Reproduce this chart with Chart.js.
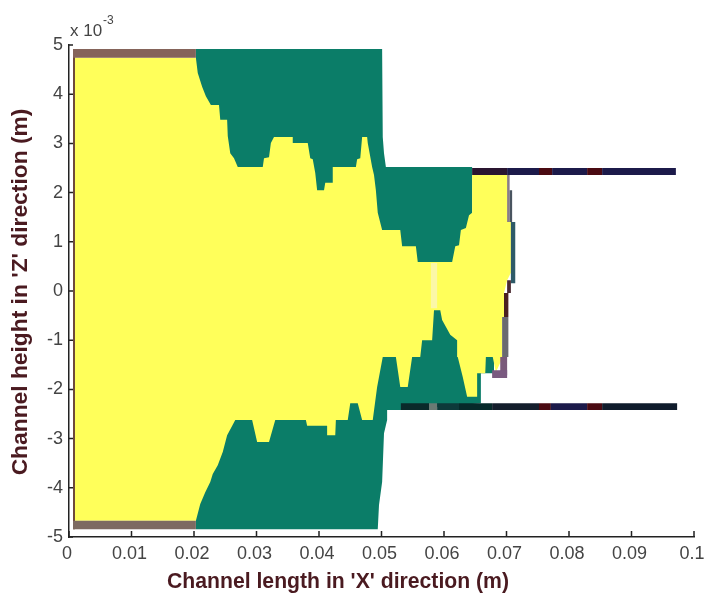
<!DOCTYPE html>
<html>
<head>
<meta charset="utf-8">
<title>Channel fill front</title>
<script src="https://cdn.jsdelivr.net/npm/chart.js@4"></script>
<style>
  html, body { margin: 0; padding: 0; background: #fff; }
  canvas { display: block; }
</style>
</head>
<body>
<canvas id="fillChart" width="708" height="597"></canvas>
<script>
// Axis ticks. Z values are in units of 10^-3 m
const xTickValues = [0, 0.01, 0.02, 0.03, 0.04, 0.05, 0.06, 0.07, 0.08, 0.09, 0.1];
const xTickLabels = ['0', '0.01', '0.02', '0.03', '0.04', '0.05', '0.06', '0.07', '0.08', '0.09', '0.1'];
const zTickValues = [-5, -4, -3, -2, -1, 0, 1, 2, 3, 4, 5];
const zTickLabels = ['-5', '-4', '-3', '-2', '-1', '0', '1', '2', '3', '4', '5'];

// Outline of the green region
const greenX = [0.0203, 0.0501, 0.0502, 0.0504, 0.0507, 0.0645, 0.0645, 0.0658, 0.0680, 0.0680, 0.0659, 0.0659, 0.0531, 0.0509, 0.0509, 0.0504, 0.0501, 0.0496, 0.0494, 0.0203];
const greenZ = [4.92, 4.92, 3.13, 2.80, 2.52, 2.52, 0.59, -0.18, -1.34, -1.67, -1.67, -2.28, -2.42, -2.42, -2.62, -2.89, -3.88, -4.35, -4.84, -4.84];

// Outline of the yellow region: upper edge, right edge, lower edge
const yellowX = [
  0.00096, 0.0203, 0.0206, 0.0213, 0.0219, 0.0227, 0.0240, 0.0242, 0.0253, 0.0254, 0.0258, 0.0264, 0.0270,
  0.0310, 0.0312, 0.0320, 0.0323, 0.0328, 0.0358, 0.0358, 0.0382, 0.0386, 0.0390, 0.0394, 0.0397, 0.0408,
  0.0410, 0.0421, 0.0422, 0.0459, 0.0461, 0.0466, 0.0469, 0.0477, 0.0478, 0.0485, 0.0488, 0.0491, 0.0494,
  0.0501, 0.0530, 0.0533, 0.0555, 0.0558, 0.0613, 0.0618, 0.0624, 0.0627, 0.0635, 0.0640, 0.0645, 0.0645,
  0.0702, 0.0702, 0.0707, 0.0707, 0.0701, 0.0696, 0.0696, 0.0693, 0.0693, 0.0690, 0.0683,
  0.0678, 0.0667, 0.0666, 0.0653, 0.0653, 0.0637, 0.0630, 0.0622, 0.0621, 0.0610, 0.0597, 0.0594, 0.0584,
  0.0581, 0.0565, 0.0562, 0.0549, 0.0542, 0.0530, 0.0523, 0.0502, 0.0493, 0.0486, 0.0469, 0.0462, 0.0450,
  0.0446, 0.0427, 0.0426, 0.0413, 0.0413, 0.0381, 0.0379, 0.0330, 0.0320, 0.0301, 0.0293, 0.0266, 0.0262,
  0.0253, 0.0246, 0.0238, 0.0230, 0.0226, 0.0218, 0.0210, 0.0203, 0.00096
];
const yellowZ = [
  4.74, 4.74, 4.43, 4.15, 3.96, 3.78, 3.78, 3.48, 3.48, 3.15, 2.80, 2.70, 2.52,
  2.52, 2.70, 2.72, 3.01, 3.13, 3.13, 3.01, 3.01, 2.70, 2.68, 2.40, 2.05, 2.05,
  2.20, 2.20, 2.52, 2.52, 2.68, 2.70, 3.13, 3.13, 3.01, 2.52, 2.36, 2.05, 1.59,
  1.24, 1.24, 0.91, 0.91, 0.59, 0.59, 0.91, 0.93, 1.24, 1.28, 1.54, 1.59, 2.36,
  2.36, 1.44, 1.40, 0.37, 0.22, -0.04, -0.53, -0.53, -1.34, -1.46, -1.65,
  -1.34, -1.34, -1.67, -1.67, -2.15, -2.15, -1.75, -1.34, -1.00, -0.89, -0.59, -0.39, -0.39,
  -1.00, -1.00, -1.34, -1.34, -1.95, -1.95, -1.34, -1.34, -1.95, -2.62, -2.62, -2.28, -2.28,
  -2.62, -2.62, -2.93, -2.93, -2.74, -2.74, -2.62, -2.62, -3.07, -3.07, -2.62, -2.62, -2.72,
  -2.93, -3.27, -3.54, -3.72, -3.88, -4.09, -4.33, -4.67, -4.67
];

// Brown wall strips and the pale slit, as [x0, x1] / [z0, z1] cells
const cellX0 = [0.00064, 0.00064, 0.00064, 0.0579];
const cellX1 = [0.00096, 0.0203, 0.0203, 0.0589];
const cellZ0 = [4.92, 4.92, -4.67, 0.57];
const cellZ1 = [-4.84, 4.74, -4.84, -0.35];
const cellColors = ['#6f4a3a', '#85645a', '#7d6a62', '#fbf7a8'];

// Thin front cells on the right edge of the yellow region
const edgeX0 = [0.0701, 0.0705, 0.0707, 0.0701, 0.0696, 0.0693, 0.0690, 0.0677];
const edgeX1 = [0.0705, 0.0709, 0.0714, 0.0707, 0.0703, 0.0703, 0.0701, 0.0701];
const edgeZ0 = [2.36, 2.05, 1.40, 0.22, -0.04, -0.53, -1.34, -1.61];
const edgeZ1 = [1.40, 1.40, 0.16, -0.04, -0.53, -1.34, -1.71, -1.77];
const edgeColors = ['#8a7c88', '#4a5560', '#2e5a68', '#4a2a30', '#4a2020', '#6a6a70', '#7a5a7a', '#7a5a80'];

// Dark channel walls, split in coloured cells
const topBarEdges = [0.0645, 0.0701, 0.0752, 0.0773, 0.0829, 0.0853, 0.0971];
const topBarColors = ['#2a1530', '#1c1a4a', '#4a0a12', '#1c1a4a', '#4a0a12', '#1c1a4a'];
const topBarZ = [2.50, 2.36];
const bottomBarEdges = [0.0531, 0.0576, 0.0589, 0.0624, 0.0677, 0.0752, 0.0771, 0.0829, 0.0853, 0.0973];
const bottomBarColors = ['#0a2a2a', '#6a7a74', '#0d3a3a', '#062a2a', '#141e2c', '#4a0a12', '#1c1a4a', '#4a0a12', '#101c2c'];
const bottomBarZ = [-2.28, -2.42];

const TITLE_COLOR = '#4a1a20';
const TICK_COLOR = '#444444';
const AXIS_COLOR = '#222222';
const FONT_FAMILY = '"Liberation Sans", Arial, sans-serif';

function polygon(xs, zs, color) {
    return {
        data: xs.map((x, i) => ({ x: x, y: zs[i] })),
        showLine: true,
        backgroundColor: color,
        borderWidth: 0,
        pointRadius: 0,
        tension: 0,
        fill: 'shape'
    };
}

function cell(x0, x1, z0, z1, color) {
    return polygon([x0, x1, x1, x0], [z0, z0, z1, z1], color);
}

// Bottom layer first, reversed below because Chart.js paints the first dataset last
const layers = [
    polygon(greenX, greenZ, '#0b7d68'),
    polygon(yellowX, yellowZ, '#ffff5a')
];
cellX0.forEach((x, i) => layers.push(cell(x, cellX1[i], cellZ0[i], cellZ1[i], cellColors[i])));
edgeX0.forEach((x, i) => layers.push(cell(x, edgeX1[i], edgeZ0[i], edgeZ1[i], edgeColors[i])));
topBarColors.forEach((c, i) => layers.push(cell(topBarEdges[i], topBarEdges[i + 1], topBarZ[0], topBarZ[1], c)));
bottomBarColors.forEach((c, i) => layers.push(cell(bottomBarEdges[i], bottomBarEdges[i + 1], bottomBarZ[0], bottomBarZ[1], c)));

// Inward tick marks, axis titles and the exponent note above the Z axis
const axisExtras = {
    id: 'axisExtras',
    afterDraw(chart) {
        const { ctx, scales, chartArea } = chart;
        ctx.save();
        ctx.strokeStyle = AXIS_COLOR;
        ctx.lineWidth = 1.5;
        ctx.beginPath();
        xTickValues.forEach(v => {
            const px = scales.x.getPixelForValue(v);
            ctx.moveTo(px, chartArea.bottom);
            ctx.lineTo(px, chartArea.bottom - 6);
        });
        zTickValues.forEach(v => {
            const py = scales.y.getPixelForValue(v);
            ctx.moveTo(chartArea.left, py);
            ctx.lineTo(chartArea.left + 4, py);
        });
        ctx.stroke();

        ctx.fillStyle = TICK_COLOR;
        ctx.textAlign = 'left';
        ctx.textBaseline = 'alphabetic';
        ctx.font = '17px ' + FONT_FAMILY;
        ctx.fillText('x 10', 70, 36);
        ctx.font = '12px ' + FONT_FAMILY;
        ctx.fillText('-3', 103, 24);

        ctx.fillStyle = TITLE_COLOR;
        ctx.textAlign = 'center';
        ctx.textBaseline = 'middle';
        ctx.font = 'bold 21.2px ' + FONT_FAMILY;
        ctx.fillText("Channel length in 'X' direction (m)", 338, 582);
        ctx.translate(21, 292);
        ctx.rotate(-Math.PI / 2);
        ctx.font = 'bold 22.8px ' + FONT_FAMILY;
        ctx.fillText("Channel height in 'Z' direction (m)", 0, 0);
        ctx.restore();
    }
};

new Chart(document.getElementById('fillChart'), {
    type: 'scatter',
    data: { datasets: layers.reverse() },
    plugins: [axisExtras],
    options: {
        responsive: false,
        animation: false,
        layout: { padding: { left: 0, right: 14, top: 45, bottom: 0 } },
        plugins: {
            legend: { display: false },
            tooltip: { enabled: false },
            filler: { drawTime: 'beforeDatasetDraw' }
        },
        scales: {
            x: {
                type: 'linear',
                min: 0,
                max: 0.1,
                afterBuildTicks: scale => { scale.ticks = xTickValues.map(v => ({ value: v })); },
                afterFit: scale => {
                    scale.height = 60;
                    scale.paddingLeft = 0;
                    scale.paddingRight = 0;
                },
                grid: { drawOnChartArea: false, drawTicks: false },
                border: { color: AXIS_COLOR, width: 1.5 },
                ticks: {
                    color: TICK_COLOR,
                    font: { family: FONT_FAMILY, size: 18 },
                    padding: 6,
                    labelOffset: -2,
                    maxRotation: 0,
                    autoSkip: false,
                    callback: (v, i) => xTickLabels[i]
                }
            },
            y: {
                type: 'linear',
                min: -5,
                max: 5,
                afterBuildTicks: scale => { scale.ticks = zTickValues.map(v => ({ value: v })); },
                afterFit: scale => {
                    scale.width = 69;
                    scale.paddingTop = 0;
                    scale.paddingBottom = 0;
                },
                grid: { drawOnChartArea: false, drawTicks: false },
                border: { color: AXIS_COLOR, width: 1.5 },
                ticks: {
                    color: TICK_COLOR,
                    font: { family: FONT_FAMILY, size: 18 },
                    padding: 6,
                    autoSkip: false,
                    callback: (v, i) => zTickLabels[i]
                }
            }
        }
    }
});
</script>
</body>
</html>
